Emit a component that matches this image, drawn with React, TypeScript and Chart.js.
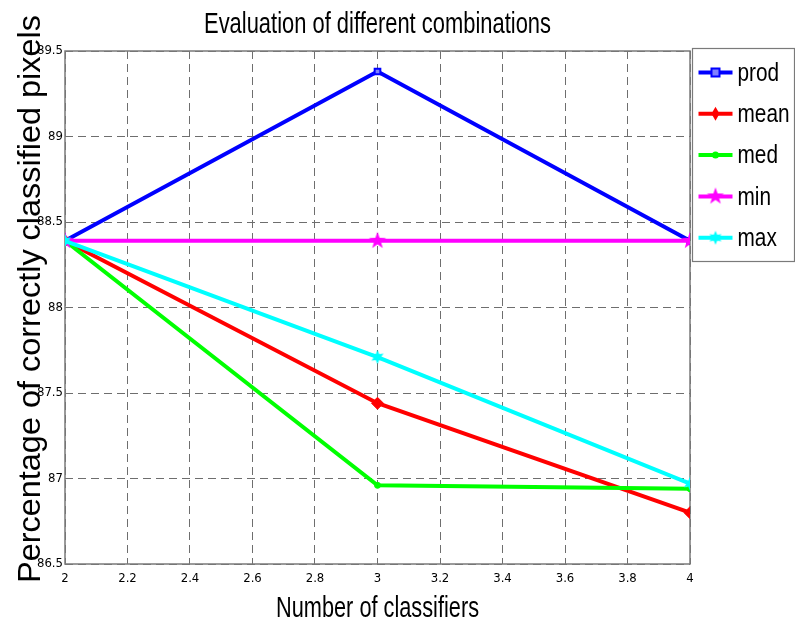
import React, { useEffect, useRef } from "react";
import { Chart, registerables } from "chart.js";

Chart.register(...registerables);

const xValues = [2, 3, 4];
const prodValues = [88.39, 89.38, 88.39];
const meanValues = [88.39, 87.44, 86.8];
const medValues = [88.39, 86.96, 86.94];
const minValues = [88.39, 88.39, 88.39];
const maxValues = [88.39, 87.71, 86.97];
const seriesNames = ["prod", "mean", "med", "min", "max"];
const seriesColors = ["#0000ff", "#ff0000", "#00ff00", "#ff00ff", "#00ffff"];
const xTicks = [2, 2.2, 2.4, 2.6, 2.8, 3, 3.2, 3.4, 3.6, 3.8, 4];
const yTicks = [86.5, 87, 87.5, 88, 88.5, 89, 89.5];
const titleText = "Evaluation of different combinations";
const xTitle = "Number of classifiers";
const yTitle = "Percentage of correctly classified pixels";

const NARROW = "'Liberation Sans Narrow', 'DejaVu Sans Condensed', 'Arial Narrow', sans-serif";

function makeStar(points: number, color: string, outer: number, inner: number): HTMLCanvasElement {
  const size = Math.ceil(outer * 2 + 4);
  const c = document.createElement("canvas");
  c.width = size;
  c.height = size;
  const ctx = c.getContext("2d")!;
  const cx = size / 2;
  const cy = size / 2;
  ctx.beginPath();
  for (let i = 0; i < points * 2; i++) {
    const r = i % 2 === 0 ? outer : inner;
    const a = -Math.PI / 2 + (i * Math.PI) / points;
    const px = cx + r * Math.cos(a);
    const py = cy + r * Math.sin(a);
    if (i === 0) ctx.moveTo(px, py);
    else ctx.lineTo(px, py);
  }
  ctx.closePath();
  ctx.fillStyle = color;
  ctx.fill();
  return c;
}

function drawFitText(
  ctx: CanvasRenderingContext2D,
  text: string,
  cx: number,
  baseline: number,
  targetW: number,
  font: string,
  rotate: boolean
) {
  ctx.save();
  ctx.font = font;
  const w = ctx.measureText(text).width;
  ctx.translate(cx, baseline);
  if (rotate) ctx.rotate(-Math.PI / 2);
  ctx.scale(targetW / w, 1);
  ctx.textAlign = "center";
  ctx.textBaseline = "alphabetic";
  ctx.fillStyle = "#000";
  ctx.fillText(text, 0, 0);
  ctx.restore();
}

export default function App() {
  const ref = useRef<HTMLCanvasElement | null>(null);

  useEffect(() => {
    document.body.style.margin = "0";
    const canvas = ref.current!;
    const pentagram = makeStar(5, seriesColors[3], 9, 3.6);
    const hexagram = makeStar(6, seriesColors[4], 7, 3.5);
    const styles: any[] = ["rect", "rectRot", "circle", pentagram, hexagram];
    const radii = [4, 6, 3, 9, 7];
    const allValues = [prodValues, meanValues, medValues, minValues, maxValues];

    const datasets = allValues.map((vals, i) => ({
      label: seriesNames[i],
      data: xValues.map((x, j) => ({ x, y: vals[j] })),
      borderColor: seriesColors[i],
      backgroundColor: i === 0 ? "#ffffff" : seriesColors[i],
      borderWidth: 4,
      pointStyle: styles[i],
      pointRadius: radii[i],
      pointBorderWidth: i === 0 ? 2 : 1,
      pointBorderColor: seriesColors[i],
      pointBackgroundColor: i === 0 ? "#8080ff" : seriesColors[i],
      tension: 0,
      order: 4 - i,
    }));

    const framePlugin = {
      id: "frame",
      beforeDatasetsDraw(chart: any) {
        const { ctx, chartArea } = chart;
        ctx.save();
        ctx.strokeStyle = "#7a7a7a";
        ctx.lineWidth = 1.5;
        ctx.strokeRect(chartArea.left, chartArea.top, chartArea.right - chartArea.left, chartArea.bottom - chartArea.top);
        ctx.restore();
      },
      afterDraw(chart: any) {
        const ctx: CanvasRenderingContext2D = chart.ctx;
        const area = chart.chartArea;
        const mid = (area.left + area.right) / 2;
        drawFitText(ctx, titleText, mid, 33, 347, "29px 'Liberation Sans', Arial, sans-serif", false);
        drawFitText(ctx, xTitle, mid, 617, 203, "30px 'Liberation Sans', Arial, sans-serif", false);
        drawFitText(ctx, yTitle, 40, 299, 568, "31px 'Liberation Sans', Arial, sans-serif", true);

        // legend
        const bx = area.right + 2.5;
        const by = area.top - 2.5;
        const bw = 102;
        const bh = 213;
        ctx.save();
        ctx.fillStyle = "#ffffff";
        ctx.fillRect(bx, by, bw, bh);
        ctx.strokeStyle = "#7a7a7a";
        ctx.lineWidth = 1.2;
        ctx.strokeRect(bx, by, bw, bh);
        for (let i = 0; i < seriesNames.length; i++) {
          const yy = by + 24 + i * 41.3;
          const x1 = bx + 6;
          const x2 = bx + 40;
          ctx.strokeStyle = seriesColors[i];
          ctx.lineWidth = 4;
          ctx.beginPath();
          ctx.moveTo(x1, yy);
          ctx.lineTo(x2, yy);
          ctx.stroke();
          const mx = (x1 + x2) / 2;
          ctx.fillStyle = seriesColors[i];
          const st = styles[i];
          if (st === "rect") {
            ctx.fillStyle = "#8080ff";
            ctx.fillRect(mx - 4, yy - 4, 8, 8);
            ctx.strokeStyle = seriesColors[i];
            ctx.lineWidth = 2;
            ctx.strokeRect(mx - 4, yy - 4, 8, 8);
          } else if (st === "rectRot") {
            ctx.beginPath();
            ctx.moveTo(mx, yy - 7);
            ctx.lineTo(mx + 4, yy);
            ctx.lineTo(mx, yy + 7);
            ctx.lineTo(mx - 4, yy);
            ctx.closePath();
            ctx.fill();
          } else if (st === "circle") {
            ctx.beginPath();
            ctx.arc(mx, yy, 3.5, 0, Math.PI * 2);
            ctx.fill();
          } else {
            const img = st as HTMLCanvasElement;
            ctx.drawImage(img, mx - img.width / 2, yy - img.height / 2);
          }
          ctx.save();
          ctx.font = "26px 'Liberation Sans', Arial, sans-serif";
          ctx.fillStyle = "#000";
          ctx.textBaseline = "middle";
          ctx.translate(bx + 45, yy + 1);
          ctx.scale(0.8, 1);
          ctx.fillText(seriesNames[i], 0, 0);
          ctx.restore();
        }
        ctx.restore();
      },
    };

    const chart = new Chart(canvas, {
      type: "line",
      data: { datasets: datasets as any },
      options: {
        animation: false,
        responsive: false,
        layout: { padding: { top: 51, right: 105, left: 0, bottom: 0 } },
        plugins: {
          legend: { display: false },
          title: { display: false },
          tooltip: { enabled: false },
        },
        scales: {
          x: {
            type: "linear",
            min: 2,
            max: 4,
            afterBuildTicks: (s: any) => {
              s.ticks = xTicks.map((v) => ({ value: v }));
            },
            afterFit: (s: any) => {
              s.height = 63;
            },
            ticks: {
              autoSkip: false,
              maxRotation: 0,
              padding: 7,
              color: "#000",
              font: { size: 13, family: NARROW },
              callback: (v: any) => String(v),
            },
            grid: { color: "#6e6e6e", lineWidth: 1, drawTicks: false },
            border: { display: false, dash: [8, 5] },
          },
          y: {
            type: "linear",
            min: 86.5,
            max: 89.5,
            afterBuildTicks: (s: any) => {
              s.ticks = yTicks.map((v) => ({ value: v }));
            },
            afterFit: (s: any) => {
              s.width = 65;
            },
            ticks: {
              padding: 2,
              color: "#000",
              font: { size: 13, family: NARROW },
              callback: (v: any) => String(v),
            },
            grid: { color: "#6e6e6e", lineWidth: 1, drawTicks: false },
            border: { display: false, dash: [8, 5] },
          },
        },
      },
      plugins: [framePlugin],
    });
    return () => chart.destroy();
  }, []);

  return <canvas ref={ref} width={795} height={627} style={{ display: "block" }} />;
}
